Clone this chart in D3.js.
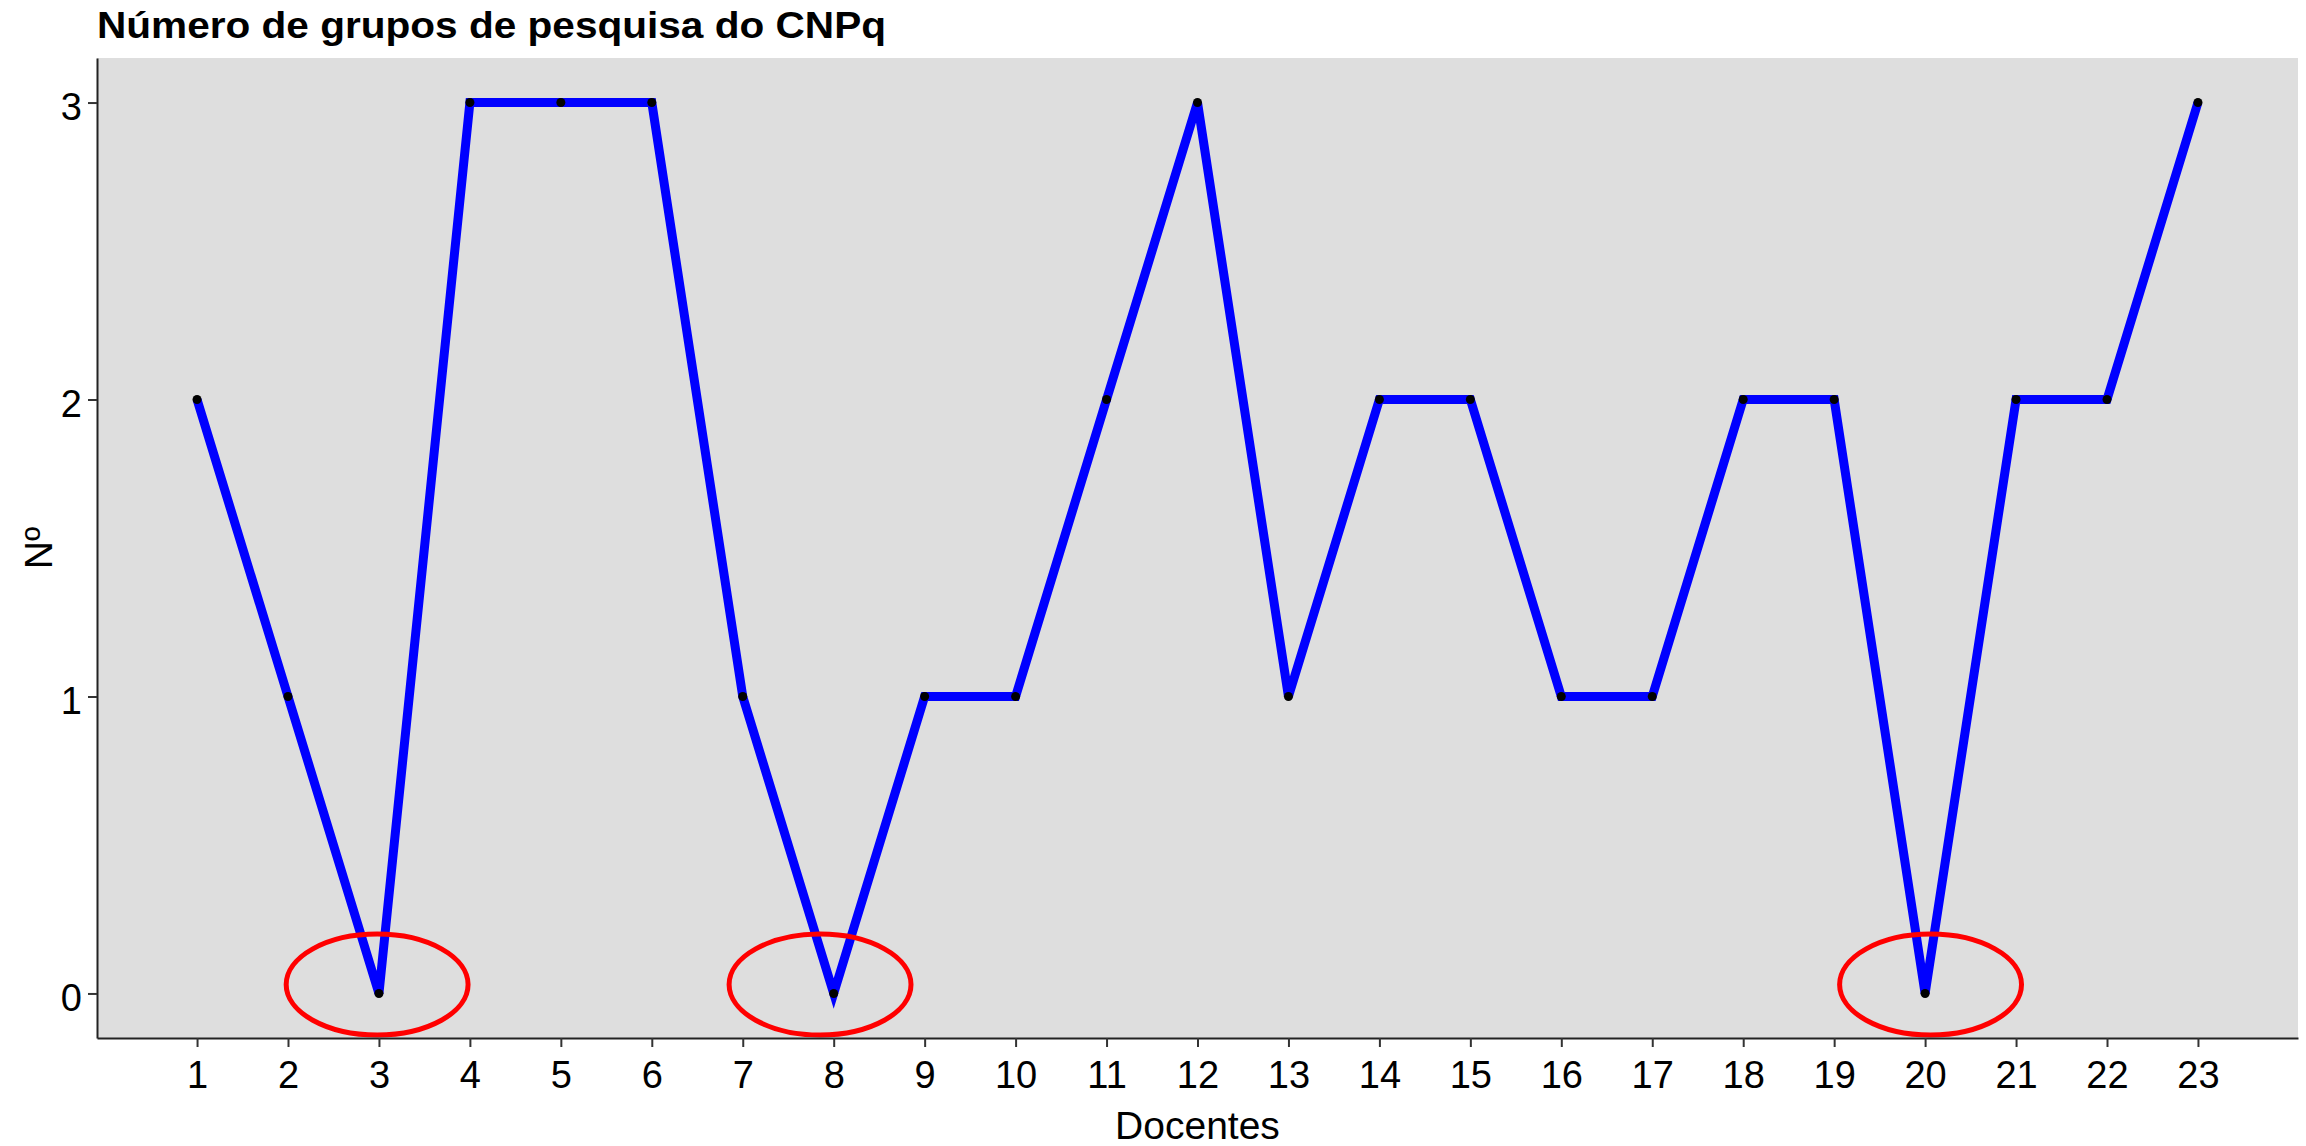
<!DOCTYPE html>
<html>
<head>
<meta charset="utf-8">
<script src="https://cdn.jsdelivr.net/npm/d3@7"></script>
<style>
  body { margin: 0; background: #fff; }
  text { font-family: Arial, "Liberation Sans", sans-serif; }
</style>
</head>
<body>
<div id="canvas"></div>
<script>
// chart data
const docentes = [1, 2, 3, 4, 5, 6, 7, 8, 9, 10, 11, 12, 13, 14, 15, 16, 17, 18, 19, 20, 21, 22, 23];
const grupos = [2, 1, 0, 3, 3, 3, 1, 0, 1, 1, 2, 3, 1, 2, 2, 1, 1, 2, 2, 0, 2, 2, 3];
const yTicks = [0, 1, 2, 3];
// hand-drawn circles around the zero values (centre in data units)
const destaqueX = [2.98, 7.85, 20.06];
const destaqueY = [0.03, 0.03, 0.03];

const width = 2306;
const height = 1146;
const margin = { top: 58, left: 97, bottom: 108, right: 8 };
const iwidth = width - margin.left - margin.right;
const iheight = height - margin.top - margin.bottom;

const svg = d3.select("#canvas").append("svg")
    .attr("width", width)
    .attr("height", height);

// title, aligned with the panel
svg.append("text")
    .attr("x", margin.left)
    .attr("y", 38)
    .attr("font-size", 36)
    .attr("font-weight", "bold")
    .attr("textLength", 789)
    .attr("lengthAdjust", "spacingAndGlyphs")
    .text("Número de grupos de pesquisa do CNPq");

const graph = svg.append("g").attr("transform", `translate(${margin.left},${margin.top})`);

// ggplot-like 5% expansion
const xr = d3.max(docentes) - d3.min(docentes);
const x = d3.scaleLinear()
    .domain([d3.min(docentes) - xr * 0.05, d3.max(docentes) + xr * 0.05])
    .range([0, iwidth]);
const y = d3.scaleLinear()
    .domain([-0.15, 3.15])
    .range([iheight, 0]);

graph.append("rect")
    .attr("width", iwidth)
    .attr("height", iheight)
    .attr("fill", "#DEDEDE");

const line = d3.line()
    .x((d, i) => x(docentes[i]))
    .y(d => y(d));

graph.append("path")
    .datum(grupos)
    .attr("fill", "none")
    .attr("stroke", "#0000FF")
    .attr("stroke-width", 9)
    .attr("d", line);

graph.selectAll("circle.pt").data(grupos).enter().append("circle")
    .attr("class", "pt")
    .attr("cx", (d, i) => x(docentes[i]))
    .attr("cy", d => y(d))
    .attr("r", 4.5)
    .attr("fill", "#000");

// red ellipses
graph.selectAll("ellipse").data(destaqueX).enter().append("ellipse")
    .attr("cx", d => x(d))
    .attr("cy", (d, i) => y(destaqueY[i]))
    .attr("rx", x(1) - x(0))
    .attr("ry", y(0) - y(0.17))
    .attr("fill", "none")
    .attr("stroke", "#FF0000")
    .attr("stroke-width", 5);

// axes
const xAxis = graph.append("g")
    .attr("transform", `translate(0, ${iheight})`)
    .call(d3.axisBottom(x).tickValues(docentes).tickFormat(d3.format("d")).tickSize(9).tickSizeOuter(0));
xAxis.selectAll("text")
    .attr("y", 50)
    .attr("dy", 0)
    .attr("font-size", 38)
    .attr("fill", "#000");

const yAxis = graph.append("g")
    .call(d3.axisLeft(y).tickValues(yTicks).tickFormat(d3.format("d")).tickSize(9).tickSizeOuter(0));
yAxis.selectAll("text")
    .attr("x", -15)
    .attr("dy", 17)
    .attr("font-size", 38)
    .attr("fill", "#000");

[xAxis, yAxis].forEach(a => {
    a.select(".domain").attr("stroke", "#222").attr("stroke-width", 2);
    a.selectAll(".tick line").attr("stroke", "#333").attr("stroke-width", 2);
    a.attr("font-family", null);
});

// axis titles
svg.append("text")
    .attr("x", margin.left + iwidth / 2)
    .attr("y", 1139)
    .attr("text-anchor", "middle")
    .attr("font-size", 39)
    .text("Docentes");

svg.append("text")
    .attr("transform", `translate(52, ${margin.top + iheight / 2}) rotate(-90)`)
    .attr("text-anchor", "middle")
    .attr("font-size", 39)
    .text("Nº");
</script>
</body>
</html>
